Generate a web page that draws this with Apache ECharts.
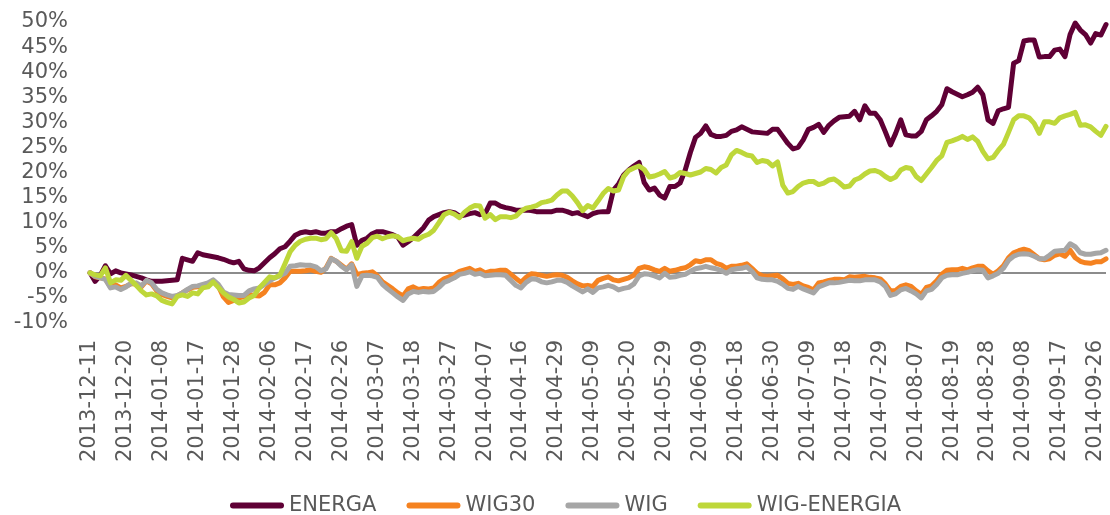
<!DOCTYPE html>
<html>
<head>
<meta charset="utf-8">
<title>ENERGA vs WIG</title>
<script src="https://cdn.jsdelivr.net/npm/echarts@6/dist/echarts.min.js"></script>
<style>
  html, body { margin: 0; padding: 0; background: #fff; }
  #chart { width: 1110px; height: 515px; }
</style>
</head>
<body>
<div id="chart"></div>
<script>
// trading days (GPW), 2013-12-11 .. 2014-09-30
var dates = [
  "2013-12-11","2013-12-12","2013-12-13","2013-12-16","2013-12-17","2013-12-18","2013-12-19","2013-12-20","2013-12-23","2013-12-27","2013-12-30",
  "2014-01-02","2014-01-03","2014-01-07","2014-01-08","2014-01-09","2014-01-10","2014-01-13","2014-01-14","2014-01-15","2014-01-16","2014-01-17",
  "2014-01-20","2014-01-21","2014-01-22","2014-01-23","2014-01-24","2014-01-27","2014-01-28","2014-01-29","2014-01-30","2014-01-31",
  "2014-02-03","2014-02-04","2014-02-05","2014-02-06","2014-02-07","2014-02-10","2014-02-11","2014-02-12","2014-02-13","2014-02-14",
  "2014-02-17","2014-02-18","2014-02-19","2014-02-20","2014-02-21","2014-02-24","2014-02-25","2014-02-26","2014-02-27","2014-02-28",
  "2014-03-03","2014-03-04","2014-03-05","2014-03-06","2014-03-07","2014-03-10","2014-03-11","2014-03-12","2014-03-13","2014-03-14",
  "2014-03-17","2014-03-18","2014-03-19","2014-03-20","2014-03-21","2014-03-24","2014-03-25","2014-03-26","2014-03-27","2014-03-28","2014-03-31",
  "2014-04-01","2014-04-02","2014-04-03","2014-04-04","2014-04-07","2014-04-08","2014-04-09","2014-04-10","2014-04-11","2014-04-14",
  "2014-04-15","2014-04-16","2014-04-17","2014-04-22","2014-04-23","2014-04-24","2014-04-25","2014-04-28","2014-04-29","2014-04-30",
  "2014-05-02","2014-05-05","2014-05-06","2014-05-07","2014-05-08","2014-05-09","2014-05-12","2014-05-13","2014-05-14","2014-05-15",
  "2014-05-16","2014-05-19","2014-05-20","2014-05-21","2014-05-22","2014-05-23","2014-05-26","2014-05-27","2014-05-28","2014-05-29","2014-05-30",
  "2014-06-02","2014-06-03","2014-06-04","2014-06-05","2014-06-06","2014-06-09","2014-06-10","2014-06-11","2014-06-12","2014-06-13",
  "2014-06-16","2014-06-17","2014-06-18","2014-06-20","2014-06-23","2014-06-24","2014-06-25","2014-06-26","2014-06-27","2014-06-30",
  "2014-07-01","2014-07-02","2014-07-03","2014-07-04","2014-07-07","2014-07-08","2014-07-09","2014-07-10","2014-07-11","2014-07-14",
  "2014-07-15","2014-07-16","2014-07-17","2014-07-18","2014-07-21","2014-07-22","2014-07-23","2014-07-24","2014-07-25","2014-07-28",
  "2014-07-29","2014-07-30","2014-07-31","2014-08-01","2014-08-04","2014-08-05","2014-08-06","2014-08-07","2014-08-08","2014-08-11",
  "2014-08-12","2014-08-13","2014-08-14","2014-08-18","2014-08-19","2014-08-20","2014-08-21","2014-08-22","2014-08-25","2014-08-26",
  "2014-08-27","2014-08-28","2014-08-29","2014-09-01","2014-09-02","2014-09-03","2014-09-04","2014-09-05","2014-09-08","2014-09-09",
  "2014-09-10","2014-09-11","2014-09-12","2014-09-15","2014-09-16","2014-09-17","2014-09-18","2014-09-19","2014-09-22","2014-09-23",
  "2014-09-24","2014-09-25","2014-09-26","2014-09-29","2014-09-30"
];

// cumulative return, %
var energa = [
  0,-1.7,-0.5,1.4,-0.2,0.4,0,-0.2,-0.4,-0.7,-1.0,-1.4,-1.7,-1.7,-1.7,-1.6,-1.5,-1.4,2.9,2.6,
  2.3,4.0,3.6,3.4,3.2,3.0,2.7,2.3,2.0,2.3,0.8,0.5,0.4,1.0,2.0,3.0,3.8,4.8,5.2,6.3,
  7.5,8.0,8.2,8.0,8.2,7.9,7.9,8.2,8.2,8.8,9.3,9.6,5.5,6.5,6.9,7.8,8.2,8.2,7.9,7.6,
  7.1,5.5,6.2,7.0,8.0,9.0,10.5,11.2,11.6,12.0,12.2,12.0,11.3,11.5,11.8,12.0,11.6,11.8,13.9,13.9,
  13.3,13.0,12.8,12.5,12.5,12.5,12.4,12.2,12.2,12.2,12.2,12.5,12.5,12.2,11.8,12.0,11.6,11.2,11.8,12.1,
  12.2,12.2,16.5,17.7,19.5,20.5,21.3,22.0,18.0,16.5,16.9,15.5,14.9,17.2,17.2,17.9,20.5,24.0,27.0,27.8,
  29.3,27.6,27.2,27.2,27.4,28.2,28.5,29.1,28.6,28.1,28.0,27.9,27.8,28.6,28.6,27.2,25.8,24.7,25.0,26.5,
  28.6,29.0,29.6,28.0,29.4,30.3,31.0,31.1,31.2,32.2,30.5,33.3,31.8,31.8,30.5,28.1,25.5,27.8,30.5,27.5,
  27.3,27.3,28.2,30.5,31.3,32.2,33.5,36.7,36.1,35.6,35.1,35.5,36.0,37.0,35.5,30.5,29.8,32.3,32.7,33.0,
  41.8,42.3,46.2,46.4,46.4,43.0,43.1,43.1,44.4,44.6,43.1,47.5,49.8,48.4,47.5,45.8,47.7,47.4,49.5
];
var wig30 = [
  0,-0.8,-1.0,-1.2,-2.8,-2.4,-3.0,-2.7,-2.2,-2.2,-2.8,-1.6,-2.2,-3.6,-4.3,-4.7,-5.0,-4.6,-4.0,-3.4,
  -2.9,-2.8,-2.5,-2.2,-1.6,-2.6,-4.8,-5.9,-5.5,-5.0,-4.8,-4.3,-4.5,-4.6,-3.9,-2.4,-2.4,-2.0,-1.0,0.3,
  0.3,0.3,0.4,0.6,0.3,0.1,1.0,2.9,2.3,1.5,0.7,1.8,-0.3,-0.1,0.0,0.2,-0.6,-1.8,-2.5,-3.2,
  -4.0,-4.6,-3.2,-2.8,-3.3,-3.1,-3.2,-3.0,-1.9,-1.2,-0.8,-0.3,0.3,0.6,0.9,0.3,0.6,0.0,0.3,0.3,
  0.5,0.5,-0.3,-1.1,-1.9,-0.9,-0.2,-0.3,-0.5,-0.7,-0.5,-0.4,-0.5,-0.9,-1.6,-2.2,-2.6,-2.5,-2.7,-1.5,
  -1.1,-0.8,-1.4,-1.6,-1.3,-1.0,-0.5,0.9,1.2,1.0,0.6,0.3,0.9,0.3,0.5,0.8,1.0,1.6,2.4,2.2,
  2.6,2.6,1.9,1.6,0.9,1.3,1.3,1.5,1.8,0.9,-0.1,-0.6,-0.7,-0.6,-0.5,-1.2,-2.1,-2.3,-2.1,-2.6,
  -2.9,-3.4,-2.0,-1.8,-1.5,-1.3,-1.3,-1.4,-0.8,-0.9,-0.8,-0.7,-0.9,-1.0,-1.2,-2.2,-3.6,-3.5,-2.7,-2.4,
  -2.7,-3.6,-4.3,-2.9,-2.6,-1.6,-0.3,0.5,0.6,0.6,0.9,0.6,1.0,1.3,1.3,0.4,-0.3,0.4,1.4,3.0,
  4.0,4.4,4.7,4.4,3.6,2.8,2.6,2.8,3.5,3.8,3.3,4.5,3.0,2.3,2.0,1.9,2.2,2.2,2.8
];
var wig = [
  0,-0.7,-1.0,-1.3,-3.0,-2.8,-3.3,-2.8,-2.1,-2.0,-2.6,-1.5,-2.0,-3.3,-4.0,-4.4,-4.7,-4.5,-4.0,-3.3,
  -2.7,-2.6,-2.3,-2.0,-1.4,-2.3,-3.8,-4.3,-4.4,-4.5,-4.5,-3.6,-3.2,-3.0,-2.3,-1.6,-1.0,-0.6,-0.1,1.3,
  1.4,1.6,1.5,1.5,1.2,0.4,0.8,2.8,2.3,1.3,0.6,1.6,-2.7,-0.6,-0.5,-0.6,-0.9,-2.3,-3.2,-4.0,
  -4.8,-5.5,-4.2,-3.7,-3.9,-3.7,-3.8,-3.7,-2.9,-1.9,-1.5,-1.0,-0.3,-0.1,0.2,-0.3,-0.1,-0.6,-0.5,-0.4,
  -0.4,-0.5,-1.5,-2.5,-3.0,-1.9,-1.2,-1.3,-1.8,-2.0,-1.8,-1.5,-1.5,-1.9,-2.6,-3.2,-3.8,-3.2,-3.9,-3.0,
  -2.8,-2.5,-2.8,-3.4,-3.1,-2.9,-2.2,-0.6,-0.2,-0.3,-0.6,-1.0,-0.1,-0.9,-0.8,-0.5,-0.3,0.3,0.8,1.0,
  1.3,1.0,0.8,0.5,-0.1,0.6,0.8,0.9,1.2,0.3,-1.0,-1.3,-1.4,-1.4,-1.7,-2.3,-3.1,-3.3,-2.7,-3.2,
  -3.6,-4.0,-2.8,-2.4,-2.0,-2.0,-1.9,-1.7,-1.5,-1.6,-1.6,-1.4,-1.4,-1.4,-1.8,-2.7,-4.5,-4.2,-3.4,-3.1,
  -3.6,-4.2,-5.0,-3.6,-3.3,-2.3,-1.0,-0.5,-0.4,-0.4,-0.1,0.1,0.4,0.6,0.5,-1.0,-0.6,-0.1,0.9,2.5,
  3.3,3.7,3.8,3.7,3.3,2.8,2.8,3.5,4.3,4.4,4.5,5.8,5.2,4.0,3.7,3.7,3.9,4.0,4.5
];
var wigEnergia = [
  0,-0.4,-0.6,1.0,-2.0,-1.4,-1.5,-0.5,-1.5,-2.5,-3.6,-4.4,-4.2,-4.6,-5.5,-5.9,-6.2,-4.7,-4.4,-4.7,
  -4.0,-4.2,-3.0,-2.8,-1.8,-2.9,-4.0,-4.8,-5.3,-6.0,-5.8,-5.0,-4.5,-3.0,-1.9,-0.8,-1.0,-0.5,1.8,4.2,
  5.5,6.3,6.7,6.9,6.9,6.6,6.8,8.0,6.8,4.4,4.3,6.2,2.9,5.3,5.9,7.0,7.3,6.8,7.2,7.4,
  7.2,6.4,6.7,6.9,6.7,7.3,7.7,8.5,10.0,11.6,12.1,11.7,11.0,12.1,12.9,13.4,13.3,10.9,11.6,10.6,
  11.2,11.2,11.0,11.3,12.3,12.9,13.1,13.4,14.0,14.2,14.5,15.5,16.3,16.3,15.3,14.0,12.4,13.4,12.9,14.3,
  15.8,16.8,16.3,16.5,19.2,20.4,20.9,21.3,20.6,19.1,19.3,19.7,20.2,18.9,19.2,20.0,19.8,19.5,19.8,20.1,
  20.8,20.6,19.9,21.0,21.5,23.5,24.4,24.0,23.5,23.3,22.0,22.4,22.2,21.3,22.1,17.5,15.9,16.2,17.2,17.9,
  18.2,18.2,17.6,17.9,18.5,18.7,18.0,17.1,17.3,18.5,18.9,19.7,20.3,20.4,20.0,19.2,18.6,19.1,20.5,21.0,
  20.8,19.2,18.4,19.7,21.0,22.4,23.3,26.0,26.3,26.7,27.2,26.6,27.1,26.2,24.2,22.7,23.0,24.4,25.6,28.0,
  30.5,31.3,31.3,30.9,29.8,27.8,30.1,30.1,29.8,30.9,31.3,31.6,32.0,29.4,29.5,29.1,28.2,27.4,29.2
];

var seriesNames = ["ENERGA", "WIG30", "WIG", "WIG-ENERGIA"];
var seriesColors = ["#5f0035", "#f58220", "#a6a6a6", "#bed73a"];
var seriesData = [energa, wig30, wig, wigEnergia];

var textColor = "#595959";
var fontFamily = "DejaVu Sans, Verdana, sans-serif";
// capsule shaped legend marker
var legendIcon = "path://M3,0 L51,0 A3,3 0 0 1 51,6 L3,6 A3,3 0 0 1 3,0 Z";

var chart = echarts.init(document.getElementById("chart"));

var series = seriesNames.map(function (name, i) {
  var s = {
    name: name,
    type: "line",
    data: seriesData[i],
    symbol: "none",
    smooth: false,
    lineStyle: { color: seriesColors[i], width: 5, join: "round", cap: "round" },
    itemStyle: { color: seriesColors[i] },
  };
  if (i === 0) {
    // zero line
    s.markLine = {
      silent: true,
      symbol: "none",
      label: { show: false },
      lineStyle: { color: "#8c8c8c", type: "solid", width: 2 },
      data: [{ yAxis: 0 }],
      z: 1,
    };
  }
  return s;
});

chart.setOption({
  animation: false,
  textStyle: { fontFamily: fontFamily },
  grid: {
    left: 90,
    right: 4,
    top: 22,
    bottom: 192,
  },
  legend: {
    data: seriesNames.map(function (name) {
      return { name: name, icon: legendIcon };
    }),
    left: 225,
    top: 490,
    itemWidth: 54,
    itemHeight: 6,
    itemGap: 30,
    textStyle: { color: textColor, fontSize: 21, fontFamily: fontFamily },
  },
  xAxis: {
    type: "category",
    data: dates,
    boundaryGap: false,
    axisLine: { show: false },
    axisTick: { show: false },
    axisLabel: {
      interval: 6,
      rotate: 90,
      margin: 17,
      color: textColor,
      fontSize: 21,
      fontFamily: fontFamily,
    },
  },
  yAxis: {
    type: "value",
    min: -10,
    max: 50,
    interval: 5,
    axisLine: { show: false },
    axisTick: { show: false },
    splitLine: { show: false },
    axisLabel: {
      formatter: "{value}%",
      margin: 22,
      color: textColor,
      fontSize: 21,
      fontFamily: fontFamily,
    },
  },
  series: series,
});
</script>
</body>
</html>
